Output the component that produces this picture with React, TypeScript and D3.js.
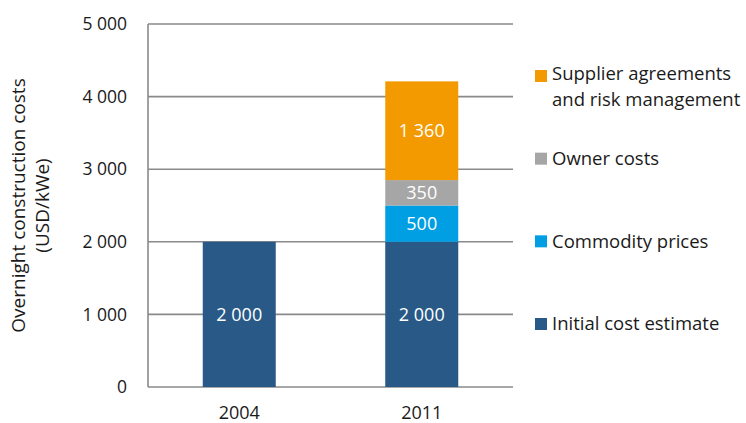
import React from "react";
import * as d3 from "d3";

const years = ["2004", "2011"];
const seriesNames = [
  "Initial cost estimate",
  "Commodity prices",
  "Owner costs",
  "Supplier agreements and risk management",
];
const initialCost = [2000, 2000];
const commodityPrices = [0, 500];
const ownerCosts = [0, 350];
const supplierAgreements = [0, 1360];
const colors = ["#285987", "#009FE3", "#A6A6A6", "#F39A00"];
const yTicks = [0, 1000, 2000, 3000, 4000, 5000];

const width = 746;
const height = 423;
const margin = { top: 24, right: 233, bottom: 36, left: 148 };
const font = "'Open Sans', 'Noto Sans', sans-serif";

const locale = d3.formatLocale({ decimal: ".", thousands: " ", grouping: [3], currency: ["", ""] });
const fmt = locale.format(",d");

export default function App() {
  const rows = years.map((year, i) => ({
    year,
    s0: initialCost[i],
    s1: commodityPrices[i],
    s2: ownerCosts[i],
    s3: supplierAgreements[i],
  }));
  const stack = d3.stack<any>().keys(["s0", "s1", "s2", "s3"])(rows);

  const x = d3
    .scaleBand()
    .domain(years)
    .range([margin.left, width - margin.right])
    .paddingInner(0.6)
    .paddingOuter(0.3);
  const y = d3
    .scaleLinear()
    .domain([0, 5000])
    .range([height - margin.bottom, margin.top]);

  // legend is listed top-down, reverse of stack order
  const legendY = d3.scalePoint().domain([3, 2, 1, 0].map(String)).range([76, 324]);

  return (
    <svg width={width} height={height} style={{ position: "absolute", left: 0, top: 0 }} fontFamily={font}>
      {yTicks.map((t) => (
        <g key={t}>
          <line x1={margin.left} x2={width - margin.right} y1={y(t)} y2={y(t)} stroke="#8a8a8a" strokeWidth={1.6} />
          <text x={127} y={y(t)} dy="0.35em" textAnchor="end" fontSize={17.5} fill="#1a1a1a">
            {fmt(t)}
          </text>
        </g>
      ))}
      <line x1={margin.left} x2={margin.left} y1={y(5000)} y2={y(0)} stroke="#8a8a8a" strokeWidth={1.6} />

      {stack.map((layer, si) =>
        layer.map((d, i) => {
          const v = d[1] - d[0];
          if (v <= 0) return null;
          const bx = x(years[i])!;
          return (
            <g key={`${si}-${i}`}>
              <rect x={bx} width={x.bandwidth()} y={y(d[1])} height={y(d[0]) - y(d[1])} fill={colors[si]} />
              <text
                x={bx + x.bandwidth() / 2}
                y={y((d[0] + d[1]) / 2)}
                dy="0.35em"
                textAnchor="middle"
                fontSize={18}
                fill="#ffffff"
              >
                {fmt(v)}
              </text>
            </g>
          );
        })
      )}

      {years.map((yr) => (
        <text key={yr} x={x(yr)! + x.bandwidth() / 2} y={413} dy="0.35em" textAnchor="middle" fontSize={18} fill="#1a1a1a">
          {yr}
        </text>
      ))}

      <text transform={`translate(25,${(y(0) + y(5000)) / 2}) rotate(-90)`} textAnchor="middle" fontSize={19} fill="#1a1a1a">
        <tspan x={0} dy={0}>Overnight construction costs</tspan>
        <tspan x={0} dy={24}>(USD/kWe)</tspan>
      </text>

      {[3, 2, 1, 0].map((si) => {
        const cy = legendY(String(si))!;
        const words = si === 3 ? ["Supplier agreements", "and risk management"] : [seriesNames[si]];
        const lineGap = 25.5;
        return (
          <g key={si}>
            <rect x={535} y={cy - 6} width={12} height={12} fill={colors[si]} />
            {words.map((w, k) => (
              <text key={k} x={552} y={cy - (words.length > 1 ? 2 : 0) + k * lineGap} dy="0.35em" fontSize={18.5} fill="#1a1a1a">
                {w}
              </text>
            ))}
          </g>
        );
      })}
    </svg>
  );
}
